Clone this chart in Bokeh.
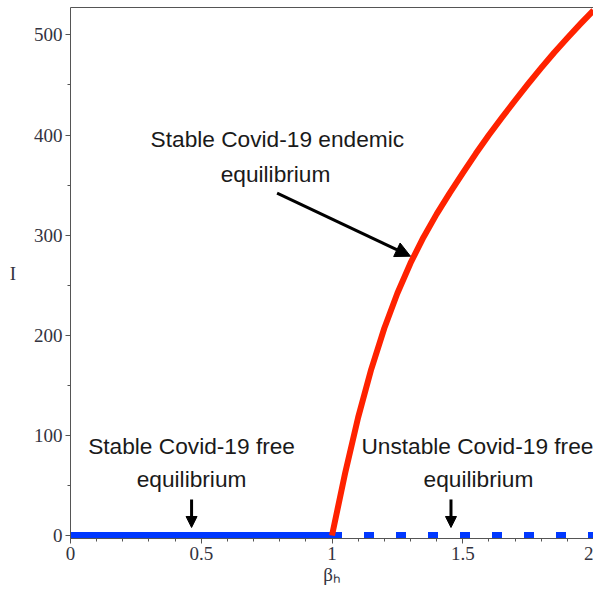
import numpy as np
from bokeh.plotting import figure
from bokeh.models import Range1d, FixedTicker, LinearAxis, Arrow, NormalHead, NumeralTickFormatter
from bokeh.core.properties import value
from bokeh.embed import file_html
from bokeh.resources import INLINE

# --- data ---
beta_dfe_stable = [0.0, 1.0]
I_dfe_stable = [0.0, 0.0]
beta_dfe_unstable = [1.0, 2.0]
I_dfe_unstable = [0.0, 0.0]
beta_endemic = [1.00, 1.05, 1.10, 1.15, 1.20, 1.25, 1.30, 1.35, 1.40, 1.45, 1.50,
                1.55, 1.60, 1.65, 1.70, 1.75, 1.80, 1.85, 1.90, 1.95, 2.00]
I_endemic = [0, 62, 118, 166, 207, 242, 272, 298, 321, 342, 362,
             381.5, 400, 417.5, 434.5, 451, 467, 482.5, 497, 511, 524.5]

x_ticks = [0, 0.5, 1, 1.5, 2]
y_ticks = [0, 100, 200, 300, 400, 500]

label_lines = ["Stable Covid-19 endemic", "equilibrium",
               "Stable Covid-19 free", "equilibrium",
               "Unstable Covid-19 free", "equilibrium"]
label_x = [0.791, 0.784, 0.463, 0.463, 1.556, 1.560]
label_y = [396, 361, 89, 56, 89, 56]

arrow_x0 = [0.790, 0.463, 1.455]
arrow_y0 = [342, 36, 36]
arrow_x1 = [1.300, 0.463, 1.455]
arrow_y1 = [279, 8, 8]
arrow_head = [15, 11, 11]

AX = "#555555"
TXT = "#333340"

p = figure(width=593, height=595, x_range=Range1d(0, 2.0), y_range=Range1d(-3, 527.4),
           output_backend="svg", toolbar_location=None,
           min_border_left=70, min_border_right=0, min_border_top=7, min_border_bottom=57,
           x_axis_label="βₕ", y_axis_label="I")
p.grid.visible = False
p.outline_line_color = None
p.background_fill_color = "white"
p.border_fill_color = "white"

for ax in (p.xaxis[0], p.yaxis[0]):
    ax.axis_line_color = AX
    ax.major_tick_line_color = AX
    ax.minor_tick_line_color = AX
    ax.major_tick_in = 0
    ax.major_tick_out = 5
    ax.minor_tick_in = 0
    ax.minor_tick_out = 3
    ax.major_label_text_font = "Liberation Serif"
    ax.major_label_text_font_size = "19px"
    ax.major_label_text_color = TXT
    ax.axis_label_text_font = "Liberation Serif"
    ax.axis_label_text_font_size = "19px"
    ax.axis_label_text_font_style = "normal"
    ax.axis_label_text_color = TXT
    ax.major_label_standoff = 3

p.xaxis.ticker = FixedTicker(ticks=x_ticks, minor_ticks=list(np.round(np.arange(0, 2.0001, 0.1), 2)))
p.xaxis.formatter = NumeralTickFormatter(format="0.[0]")
p.xaxis.axis_label_standoff = 1
p.yaxis.ticker = FixedTicker(ticks=y_ticks, minor_ticks=list(range(0, 501, 50)))
p.yaxis.axis_label_standoff = 15
p.yaxis.axis_label_orientation = "horizontal"

top = LinearAxis(ticker=FixedTicker(ticks=[]), axis_line_color=AX,
                 major_label_text_font_size="0px", major_tick_out=0, minor_tick_out=0,
                 major_tick_in=0, minor_tick_in=0, major_label_standoff=0)
p.add_layout(top, "above")

p.line(beta_dfe_stable, I_dfe_stable, line_color="#0038ff", line_width=7, line_cap="butt")
p.line(beta_dfe_unstable, I_dfe_unstable, line_color="#0038ff", line_width=7,
       line_dash="10 22", line_cap="butt")
p.line(beta_endemic, I_endemic, line_color="#ff2200", line_width=6, line_join="round")

p.text(x=label_x, y=label_y, text=label_lines, text_font=value("Liberation Sans"),
       text_font_size=value("22.7px"), text_align="center", text_baseline="alphabetic",
       text_color="#1a1a1a")

for x0, y0, x1, y1, hs in zip(arrow_x0, arrow_y0, arrow_x1, arrow_y1, arrow_head):
    p.add_layout(Arrow(end=NormalHead(size=hs, fill_color="black", line_color="black"),
                       x_start=x0, y_start=y0, x_end=x1, y_end=y1,
                       line_width=3, line_color="black"))

open("out.html", "w").write(file_html(p, INLINE))
